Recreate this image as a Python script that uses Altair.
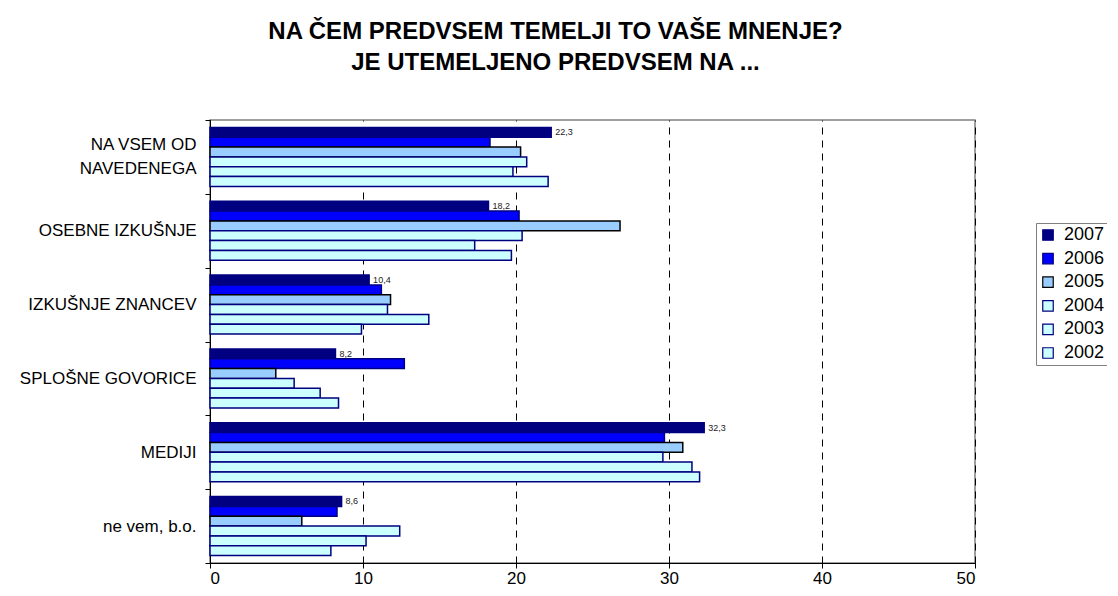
import altair as alt
import pandas as pd

categories = ["NA VSEM OD |NAVEDENEGA", "OSEBNE IZKUŠNJE", "IZKUŠNJE ZNANCEV",
              "SPLOŠNE GOVORICE", "MEDIJI", "ne vem, b.o."]
years = ["2007", "2006", "2005", "2004", "2003", "2002"]
v2007 = [22.3, 18.2, 10.4, 8.2, 32.3, 8.6]
v2006 = [18.3, 20.2, 11.2, 12.7, 29.7, 8.3]
v2005 = [20.3, 26.8, 11.8, 4.3, 30.9, 6.0]
v2004 = [20.7, 20.4, 11.6, 5.5, 29.6, 12.4]
v2003 = [19.8, 17.3, 14.3, 7.2, 31.5, 10.2]
v2002 = [22.1, 19.7, 9.9, 8.4, 32.0, 7.9]
x_ticks = [0, 10, 20, 30, 40, 50]

fill_colors = ["#000080", "#0000FF", "#99CCFF", "#CCFFFF", "#CCFFFF", "#CCFFFF"]
stroke_colors = ["#000080", "#000080", "#000000", "#000080", "#000080", "#000080"]

series = dict(zip(years, [v2007, v2006, v2005, v2004, v2003, v2002]))
rows = []
for y in years:
    for c, v in zip(categories, series[y]):
        rows.append({"category": c, "year": y, "value": v,
                     "label": f"{v:.1f}".replace(".", ",")})
df = pd.DataFrame(rows)

FONT = "Liberation Sans"

legend = alt.Legend(title=None, orient="none", legendX=826, legendY=103,
                    strokeColor="#808080", padding=3, symbolType="square",
                    symbolSize=110, symbolStrokeWidth=1.2, labelFont=FONT,
                    labelFontSize=18, labelColor="black", rowPadding=5.6,
                    labelOffset=7)

base = alt.Chart(df).encode(
    y=alt.Y("category:N", sort=categories,
            scale=alt.Scale(paddingInner=0, paddingOuter=0),
            axis=alt.Axis(title=None, tickBand="extent",
                          labelExpr="datum.value ? split(datum.value, '|') : ''",
                          labelFont=FONT, labelFontSize=17, labelColor="black",
                          labelLineHeight=24, labelPadding=9, tickSize=5,
                          labelOffset={"condition": {"test": "datum.value === 'NA VSEM OD |NAVEDENEGA'",
                                                     "value": -12},
                                       "value": 0},
                          tickColor="black", domainColor="black", labelLimit=300)),
    yOffset=alt.YOffset("year:N", sort=years,
                        scale=alt.Scale(paddingInner=0, paddingOuter=0.75)),
    x=alt.X("value:Q", scale=alt.Scale(domain=[0, 50], nice=False),
            axis=alt.Axis(title=None, values=x_ticks, grid=True, gridDash=[7, 6],
                          gridColor="black",
                          gridWidth=1, labelFont=FONT,
                          labelFontSize=17, labelColor="black", labelPadding=2,
                          tickSize=5, tickColor="black", domainColor="black")),
)

bars = base.mark_bar(strokeWidth=1.5).encode(
    fill=alt.Fill("year:N", sort=years,
                  scale=alt.Scale(domain=years, range=fill_colors), legend=legend),
    stroke=alt.Stroke("year:N", sort=years,
                      scale=alt.Scale(domain=years, range=stroke_colors), legend=legend),
)

labels = base.transform_filter(alt.datum.year == "2007").mark_text(
    align="left", baseline="middle", dx=4, fontSize=9, font=FONT, color="#222222"
).encode(text="label:N")

chart = alt.layer(bars, labels).properties(
    width=765, height=443,
    title=alt.Title(["NA ČEM PREDVSEM TEMELJI TO VAŠE MNENJE?",
                     "JE UTEMELJENO PREDVSEM NA ..."],
                    font=FONT, fontSize=24, fontWeight="bold", color="black",
                    anchor="middle", lineHeight=31.5, offset=36, dx=-37),
    autosize=alt.AutoSizeParams(type="none"),
    padding={"left": 202, "top": 112, "right": 132, "bottom": 25},
).configure_view(stroke="#808080", strokeWidth=1.5)

chart.save("out.html", embed_options={"renderer": "svg", "actions": False})
